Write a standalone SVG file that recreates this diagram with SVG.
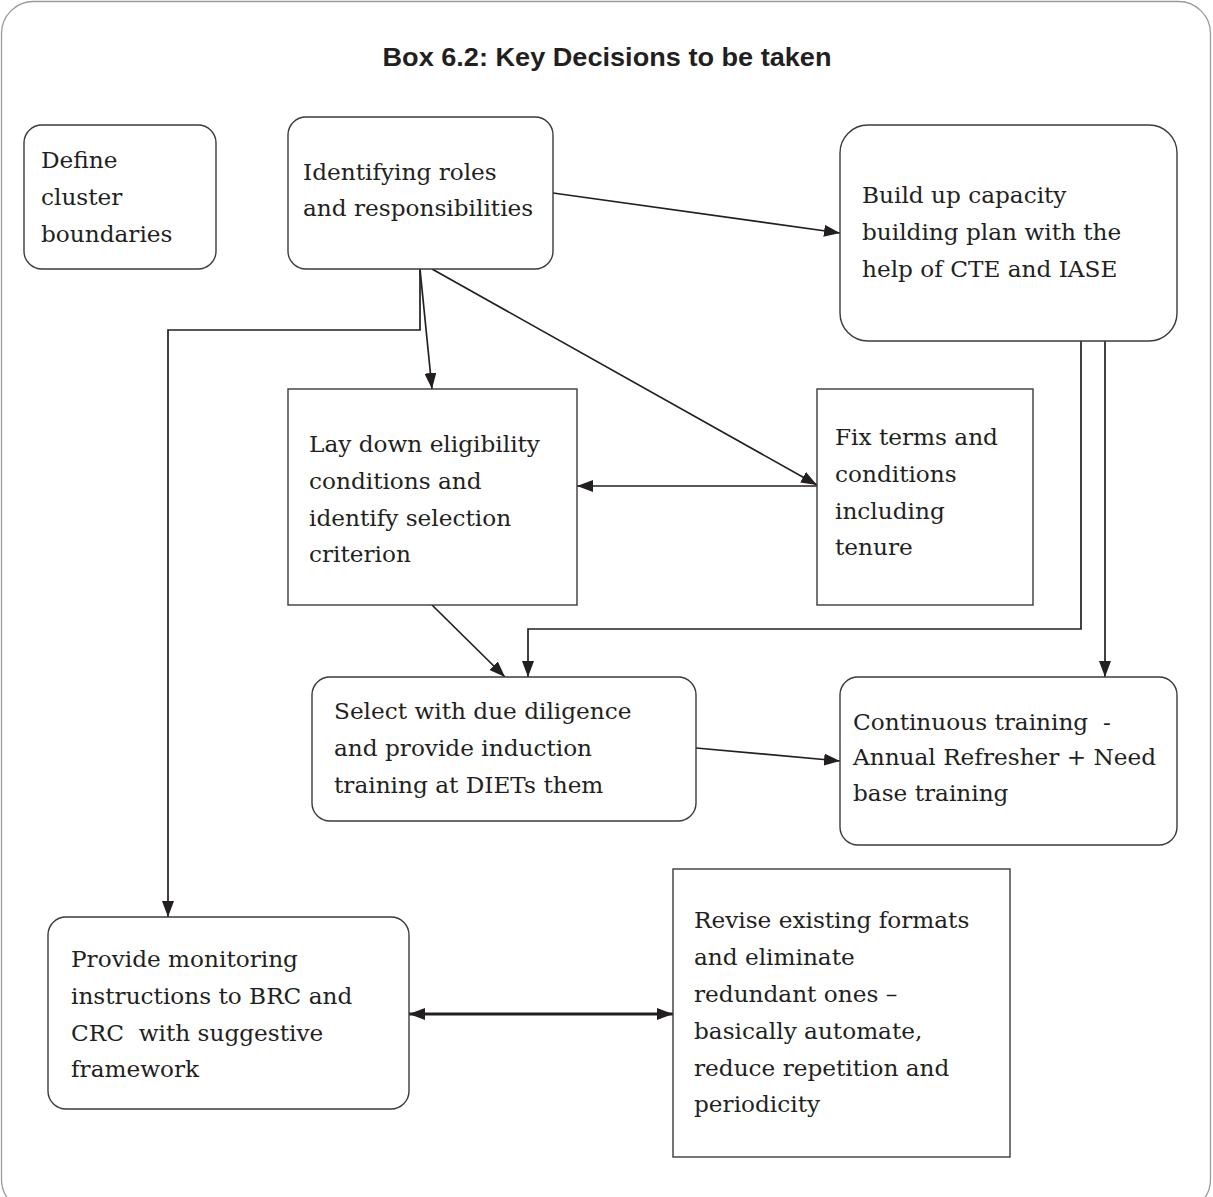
<svg xmlns="http://www.w3.org/2000/svg" width="1213" height="1197" viewBox="0 0 1213 1197">
<style>
.frame{fill:#fff;stroke:#9a9a9a;stroke-width:1.3}
.box{fill:#fff;stroke:#3c3a3b;stroke-width:1.4}
.t{font-family:"DejaVu Serif","Liberation Serif",serif;font-size:23.2px;fill:#231f20}
.title{font-family:"Liberation Sans","Arial",sans-serif;font-size:25px;font-weight:bold;fill:#231f20}
.c{fill:none;stroke:#231f20;stroke-width:1.7}
.c2{fill:none;stroke:#231f20;stroke-width:3}
</style>
<defs>
<marker id="ah" viewBox="0 0 16 12" refX="16" refY="6" markerWidth="16" markerHeight="12" markerUnits="userSpaceOnUse" orient="auto-start-reverse">
<path d="M0,0 L16,6 L0,12 z" fill="#231f20"/>
</marker>
</defs>
<rect class="frame" x="1.5" y="1.5" width="1209" height="1210" rx="32"/>
<text class="title" x="607" y="66" text-anchor="middle" textLength="449" lengthAdjust="spacingAndGlyphs">Box 6.2: Key Decisions to be taken</text>

<g id="connectors">
<line class="c" x1="553" y1="193" x2="840" y2="233" marker-end="url(#ah)"/>
<line class="c" x1="420" y1="269" x2="432" y2="389" marker-end="url(#ah)"/>
<polyline class="c" points="420,269 420,330 168,330 168,917" marker-end="url(#ah)"/>
<line class="c" x1="432" y1="269" x2="817" y2="485" marker-end="url(#ah)"/>
<line class="c" x1="817" y1="486" x2="577" y2="486" marker-end="url(#ah)"/>
<line class="c" x1="432" y1="605" x2="505" y2="677" marker-end="url(#ah)"/>
<polyline class="c" points="1081,341 1081,629 528,629 528,677" marker-end="url(#ah)"/>
<line class="c" x1="1105" y1="341" x2="1105" y2="677" marker-end="url(#ah)"/>
<line class="c" x1="696" y1="748" x2="840" y2="761" marker-end="url(#ah)"/>
<line class="c2" x1="409" y1="1014" x2="673" y2="1014" marker-start="url(#ah)" marker-end="url(#ah)"/>
</g>

<g id="define">
<rect class="box" x="24" y="125" width="192" height="144" rx="18"/>
<text class="t" x="41" y="168">Define</text>
<text class="t" x="41" y="205">cluster</text>
<text class="t" x="41" y="242">boundaries</text>
</g>

<g id="identify">
<rect class="box" x="288" y="117" width="265" height="152" rx="18"/>
<text class="t" x="303" y="180">Identifying roles</text>
<text class="t" x="303" y="216">and responsibilities</text>
</g>

<g id="buildup">
<rect class="box" x="840" y="125" width="337" height="216" rx="28"/>
<text class="t" x="862" y="203">Build up capacity</text>
<text class="t" x="862" y="240">building plan with the</text>
<text class="t" x="862" y="277">help of CTE and IASE</text>
</g>

<g id="eligibility">
<rect class="box" x="288" y="389" width="289" height="216"/>
<text class="t" x="309" y="452">Lay down eligibility</text>
<text class="t" x="309" y="489">conditions and</text>
<text class="t" x="309" y="526">identify selection</text>
<text class="t" x="309" y="562">criterion</text>
</g>

<g id="terms">
<rect class="box" x="817" y="389" width="216" height="216"/>
<text class="t" x="835" y="445">Fix terms and</text>
<text class="t" x="835" y="482">conditions</text>
<text class="t" x="835" y="519">including</text>
<text class="t" x="835" y="555">tenure</text>
</g>

<g id="select">
<rect class="box" x="312" y="677" width="384" height="144" rx="18"/>
<text class="t" x="334" y="719">Select with due diligence</text>
<text class="t" x="334" y="756">and provide induction</text>
<text class="t" x="334" y="793">training at DIETs them</text>
</g>

<g id="continuous">
<rect class="box" x="840" y="677" width="337" height="168" rx="18"/>
<text class="t" x="853" y="730" xml:space="preserve">Continuous training  -</text>
<text class="t" x="853" y="765">Annual Refresher + Need</text>
<text class="t" x="853" y="801">base training</text>
</g>

<g id="monitoring">
<rect class="box" x="48" y="917" width="361" height="192" rx="18"/>
<text class="t" x="71" y="967">Provide monitoring</text>
<text class="t" x="71" y="1004">instructions to BRC and</text>
<text class="t" x="71" y="1041" xml:space="preserve">CRC  with suggestive</text>
<text class="t" x="71" y="1077">framework</text>
</g>

<g id="revise">
<rect class="box" x="673" y="869" width="337" height="288"/>
<text class="t" x="694" y="928">Revise existing formats</text>
<text class="t" x="694" y="965">and eliminate</text>
<text class="t" x="694" y="1002">redundant ones –</text>
<text class="t" x="694" y="1039">basically automate,</text>
<text class="t" x="694" y="1076">reduce repetition and</text>
<text class="t" x="694" y="1112">periodicity</text>
</g>
</svg>
